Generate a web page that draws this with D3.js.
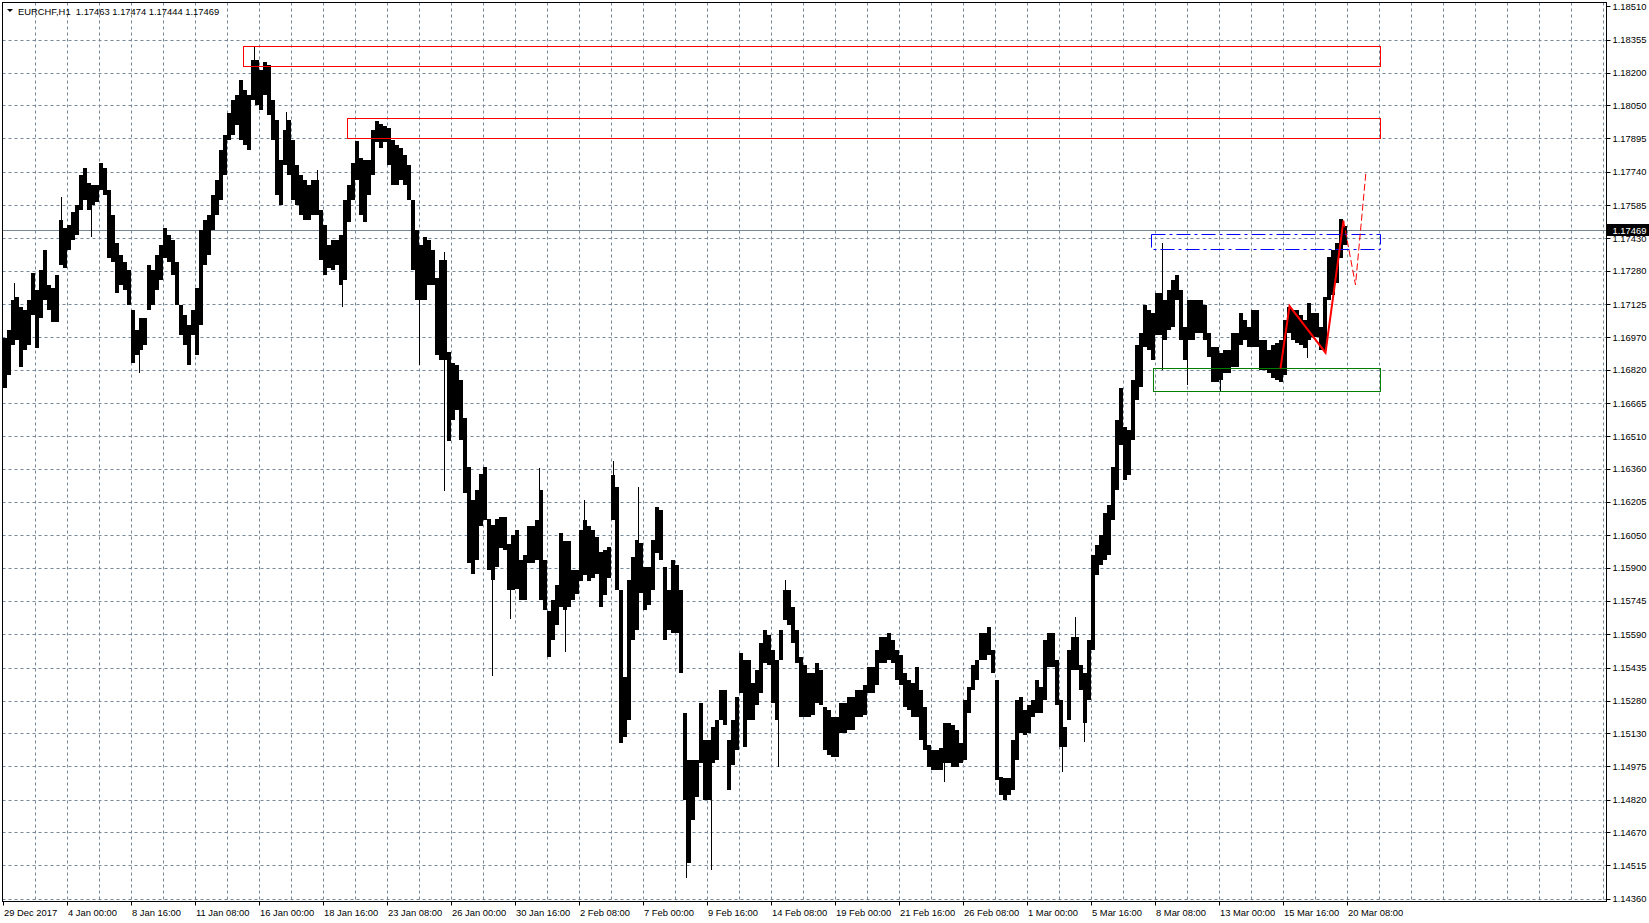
<!DOCTYPE html>
<html><head><meta charset="utf-8">
<script src="https://cdn.jsdelivr.net/npm/d3@7"></script>
<style>
html,body{margin:0;padding:0;background:#fff;}
svg{display:block;}
text{font-family:"Liberation Sans",Arial,sans-serif;font-size:9.4px;fill:#000;white-space:pre;}
</style></head><body>
<svg id="chart" width="1649" height="923"></svg>
<script>
// ---------------- data ----------------
const symbolTitle = "EURCHF,H1  1.17463 1.17474 1.17444 1.17469";
const lastPrice = 1.17469;
const priceTicks = [1.18510,1.18355,1.18200,1.18050,1.17895,1.17740,1.17585,1.17430,1.17280,1.17125,
  1.16970,1.16820,1.16665,1.16510,1.16360,1.16205,1.16050,1.15900,1.15745,1.15590,1.15435,1.15280,
  1.15130,1.14975,1.14820,1.14670,1.14515,1.14360];
const timeLabels = ["29 Dec 2017","4 Jan 00:00","8 Jan 16:00","11 Jan 08:00","16 Jan 00:00","18 Jan 16:00",
  "23 Jan 08:00","26 Jan 00:00","30 Jan 16:00","2 Feb 08:00","7 Feb 00:00","9 Feb 16:00","14 Feb 08:00",
  "19 Feb 00:00","21 Feb 16:00","26 Feb 08:00","1 Mar 00:00","5 Mar 16:00","8 Mar 08:00","13 Mar 00:00",
  "15 Mar 16:00","20 Mar 08:00"];
const barsPerLabel = 64;   // H1 bars between time labels
const barsPerBlock = 4;    // each high/low pair below covers 4 H1 bars

const blockHighs = [
1.16967,1.17005,1.17144,1.17158,1.17111,1.17097,1.17144,1.17270,1.17190,1.17283,
1.17376,1.17214,1.17200,1.17260,1.17516,1.17479,1.17493,1.17553,1.17586,1.17725,
1.17758,1.17688,1.17679,1.17679,1.17781,1.17758,1.17655,1.17539,1.17409,1.17353,
1.17321,1.17283,1.17097,1.17005,1.17060,1.17060,1.17307,1.17283,1.17353,1.17400,
1.17479,1.17446,1.17423,1.17321,1.17121,1.17074,1.17028,1.17097,1.17200,1.17470,
1.17516,1.17539,1.17632,1.17702,1.17842,1.17911,1.18014,1.18074,1.18097,1.18167,
1.18121,1.18097,1.18260,1.18260,1.18214,1.18251,1.18237,1.18074,1.17981,1.17795,
1.17935,1.17981,1.17888,1.17772,1.17725,1.17702,1.17679,1.17702,1.17702,1.17562,
1.17493,1.17400,1.17423,1.17423,1.17446,1.17609,1.17679,1.17781,1.17883,1.17804,
1.17795,1.17795,1.17935,1.17976,1.17962,1.17953,1.17944,1.17888,1.17865,1.17851,
1.17818,1.17772,1.17609,1.17470,1.17400,1.17437,1.17423,1.17376,1.17246,1.17330,
1.17330,1.16902,1.16851,1.16842,1.16772,1.16595,1.16367,1.16214,1.16261,1.16335,
1.16367,1.16126,1.16098,1.16126,1.16135,1.16135,1.16009,1.16051,1.16075,1.15935,
1.15958,1.16093,1.16093,1.16121,1.16261,1.15935,1.15698,1.15749,1.15819,1.16061,
1.16023,1.16023,1.15889,1.15889,1.16075,1.16121,1.16093,1.16075,1.16042,1.15972,
1.15982,1.15995,1.16330,1.16274,1.15796,1.15391,1.15842,1.15949,1.16028,1.16014,
1.15902,1.15902,1.16028,1.16181,1.16168,1.15902,1.15796,1.15935,1.15912,1.15796,
1.15224,1.15005,1.15005,1.15005,1.15270,1.15098,1.15098,1.15158,1.15191,1.15331,
1.15331,1.15098,1.15191,1.15298,1.15503,1.15470,1.15470,1.15363,1.15424,1.15549,
1.15610,1.15586,1.15517,1.15470,1.15610,1.15796,1.15796,1.15716,1.15610,1.15484,
1.15447,1.15410,1.15410,1.15456,1.15424,1.15251,1.15238,1.15205,1.15205,1.15270,
1.15270,1.15298,1.15298,1.15331,1.15331,1.15354,1.15437,1.15437,1.15517,1.15577,
1.15577,1.15596,1.15563,1.15517,1.15494,1.15410,1.15377,1.15363,1.15437,1.15331,
1.15251,1.15075,1.15052,1.15052,1.15061,1.15177,1.15177,1.15168,1.15145,1.15084,
1.15284,1.15344,1.15447,1.15470,1.15596,1.15596,1.15623,1.15517,1.15377,1.14926,
1.14921,1.14921,1.15098,1.15284,1.15298,1.15238,1.15261,1.15284,1.15377,1.15344,
1.15563,1.15596,1.15596,1.15470,1.15284,1.15158,1.15517,1.15577,1.15577,1.15447,
1.15410,1.15563,1.15958,1.16005,1.16051,1.16154,1.16191,1.16367,1.16586,1.16735,
1.16553,1.16540,1.16772,1.16935,1.16991,1.17121,1.17097,1.17084,1.17177,1.17177,
1.17144,1.17190,1.17237,1.17260,1.17190,1.17018,1.17144,1.17144,1.17144,1.17144,
1.17121,1.16991,1.16925,1.16925,1.16898,1.16911,1.16911,1.16991,1.16991,1.17084,
1.17051,1.17018,1.17097,1.17097,1.16958,1.16958,1.16911,1.16935,1.16944,1.16958,
1.17051,1.17111,1.17097,1.17097,1.17074,1.17051,1.17130,1.17084,1.17084,1.17018,
1.17158,1.17344,1.17376,1.17409,1.17521,1.17488];

const blockLows = [
1.16735,1.16795,1.16935,1.16958,1.16832,1.16911,1.16935,1.17074,1.16921,1.17060,
1.17144,1.17097,1.17042,1.17042,1.17307,1.17293,1.17376,1.17423,1.17446,1.17562,
1.17609,1.17562,1.17586,1.17600,1.17655,1.17632,1.17339,1.17321,1.17177,1.17214,
1.17190,1.17121,1.16851,1.16888,1.16911,1.16935,1.17097,1.17121,1.17190,1.17237,
1.17339,1.17321,1.17260,1.17121,1.16981,1.16935,1.16842,1.16981,1.16888,1.17028,
1.17307,1.17353,1.17470,1.17539,1.17609,1.17725,1.17888,1.17911,1.17958,1.17888,
1.17865,1.17842,1.18074,1.18051,1.18028,1.18097,1.18004,1.17888,1.17632,1.17586,
1.17772,1.17725,1.17609,1.17586,1.17539,1.17516,1.17516,1.17539,1.17539,1.17330,
1.17260,1.17293,1.17283,1.17307,1.17214,1.17237,1.17507,1.17609,1.17702,1.17539,
1.17507,1.17632,1.17725,1.17879,1.17851,1.17879,1.17772,1.17679,1.17679,1.17702,
1.17679,1.17609,1.17283,1.17144,1.17144,1.17144,1.17214,1.17214,1.16888,1.16865,
1.16865,1.16488,1.16586,1.16633,1.16493,1.16247,1.15921,1.15870,1.15935,1.16093,
1.16121,1.15889,1.15842,1.15902,1.15991,1.15982,1.15796,1.15796,1.15800,1.15749,
1.15749,1.15921,1.15921,1.15935,1.15749,1.15703,1.15484,1.15563,1.15633,1.15716,
1.15703,1.15716,1.15749,1.15777,1.15837,1.15865,1.15837,1.15851,1.15870,1.15716,
1.15772,1.15851,1.16121,1.15796,1.15084,1.15112,1.15191,1.15563,1.15610,1.15782,
1.15703,1.15726,1.15796,1.15968,1.15935,1.15563,1.15610,1.15596,1.15596,1.15410,
1.14819,1.14526,1.14726,1.14833,1.14991,1.14819,1.14819,1.14991,1.15005,1.15191,
1.15168,1.14866,1.14982,1.15052,1.15317,1.15065,1.15191,1.15191,1.15261,1.15317,
1.15456,1.15447,1.15270,1.15191,1.15470,1.15656,1.15633,1.15549,1.15456,1.15205,
1.15205,1.15205,1.15214,1.15270,1.15261,1.15052,1.15028,1.15019,1.15019,1.15131,
1.15131,1.15145,1.15145,1.15205,1.15205,1.15214,1.15317,1.15317,1.15354,1.15456,
1.15456,1.15470,1.15456,1.15377,1.15354,1.15251,1.15238,1.15205,1.15205,1.15098,
1.15052,1.14972,1.14959,1.14959,1.14959,1.14991,1.14991,1.14972,1.14972,1.14991,
1.15005,1.15224,1.15331,1.15377,1.15470,1.15470,1.15494,1.15410,1.14912,1.14842,
1.14819,1.14842,1.14866,1.15005,1.15131,1.15121,1.15131,1.15205,1.15224,1.15224,
1.15284,1.15437,1.15437,1.15261,1.15065,1.15065,1.15191,1.15424,1.15424,1.15331,
1.15177,1.15284,1.15517,1.15865,1.15912,1.15935,1.15958,1.16121,1.16261,1.16470,
1.16307,1.16330,1.16493,1.16679,1.16739,1.16925,1.16911,1.16865,1.16981,1.16981,
1.16958,1.17005,1.17018,1.17144,1.16958,1.16865,1.16958,1.16958,1.16991,1.16991,
1.16958,1.16879,1.16763,1.16763,1.16772,1.16805,1.16805,1.16832,1.16832,1.16935,
1.16958,1.16925,1.16925,1.16925,1.16819,1.16819,1.16805,1.16781,1.16772,1.16763,
1.16795,1.16991,1.16958,1.16944,1.16935,1.16921,1.16958,1.16972,1.16972,1.16911,
1.16911,1.17144,1.17167,1.17223,1.17339,1.17400];

// single-hour spikes (H1 bar index, high, low)
const wickBars  = [11,58,88,136,251,283,314,339,416,441,489,507,536,562,581,610,635,683,708,775,782,941,1059,1072,1081,1159,1184,1217,1304];
const wickHighs = [1.17223,1.17623,1.17632,1.17005,1.18320,1.18018,1.17749,1.17330,1.17376,1.17367,1.16075,1.15935,1.16363,1.15935,1.16214,
  1.16395,1.16274,1.15005,1.15005,1.15284,1.15842,1.15028,1.15158,1.15670,1.15331,1.17409,1.17005,1.16865,1.17051];
const wickLows  = [1.17051,1.17423,1.17437,1.16805,1.18121,1.17842,1.17609,1.17111,1.16842,1.16256,1.15396,1.15661,1.16028,1.15507,1.16028,
  1.16214,1.15935,1.14456,1.14494,1.14972,1.15703,1.14903,1.14949,1.15517,1.15089,1.16819,1.16749,1.16716,1.16874];

// zones (price levels, bar index where they start / end)
const zoneNames  = ["resistance1","resistance2","breakout","support"];
const zoneTops   = [1.18325, 1.17989, 1.17450, 1.16826];
const zoneBottoms= [1.18232, 1.17896, 1.17380, 1.16718];
const zoneStarts = [240, 344, 1148, 1150];
const zoneEnd    = 1377;
// red pattern drawn over the bars (bar index, price)
const patternBars   = [1277, 1286, 1322, 1340];
const patternPrices = [1.16826, 1.17116, 1.16899, 1.17513];
const projectionBars   = [1340, 1352, 1362.5];
const projectionPrices = [1.17513, 1.17214, 1.17742];

// ---------------- layout ----------------
const W = 1649, H = 923;
const frame = {left: 2.5, top: 2.5, right: 1606.5, bottom: 901.5};
const svg = d3.select("#chart");

const y = d3.scaleLinear().domain([1.14360, 1.18510]).range([898.7, 6.24]);
const x = d3.scaleLinear().domain([0, 1600]).range([3, 1603]);

const gridColor = "#778899";

// grid
const gGrid = svg.append("g");
const vLines = d3.range(1, 51).map(k => k * 32);
gGrid.selectAll("line.v").data(vLines).enter().append("line")
  .attr("x1", d => x(d) + 0.5).attr("x2", d => x(d) + 0.5)
  .attr("y1", frame.top).attr("y2", frame.bottom)
  .attr("stroke", gridColor).attr("stroke-width", 1).attr("stroke-dasharray", "3,3");
gGrid.selectAll("line.h").data(priceTicks.slice(1)).enter().append("line")
  .attr("x1", frame.left).attr("x2", frame.right)
  .attr("y1", d => Math.round(y(d)) + 0.5).attr("y2", d => Math.round(y(d)) + 0.5)
  .attr("stroke", gridColor).attr("stroke-width", 1).attr("stroke-dasharray", "3,3");

// last price line
svg.append("line")
  .attr("x1", frame.left).attr("x2", frame.right)
  .attr("y1", Math.round(y(lastPrice)) + 0.5).attr("y2", Math.round(y(lastPrice)) + 0.5)
  .attr("stroke", gridColor).attr("stroke-width", 1);

// bars
const gBars = svg.append("g").attr("shape-rendering", "crispEdges");
const blocks = blockHighs.map((h, i) => ({i, h, l: blockLows[i]}));
gBars.selectAll("rect.b").data(blocks).enter().append("rect")
  .attr("x", d => x(d.i * barsPerBlock))
  .attr("width", barsPerBlock)
  .attr("y", d => y(d.h))
  .attr("height", d => Math.max(1, y(d.l) - y(d.h)))
  .attr("fill", "#000");
const wicks = wickBars.map((b, i) => ({b, h: wickHighs[i], l: wickLows[i]}));
gBars.selectAll("rect.w").data(wicks).enter().append("rect")
  .attr("x", d => x(d.b))
  .attr("width", 1)
  .attr("y", d => y(d.h))
  .attr("height", d => Math.max(1, y(d.l) - y(d.h)))
  .attr("fill", "#000");

// zones
const zoneStyles = [
  {stroke: "#ff0000", dash: null},
  {stroke: "#ff0000", dash: null},
  {stroke: "#0000ff", dash: "14,4,3,4"},
  {stroke: "#008000", dash: null}
];
const zones = zoneNames.map((n, i) => ({n, top: zoneTops[i], bottom: zoneBottoms[i], start: zoneStarts[i], s: zoneStyles[i]}));
svg.append("g").selectAll("rect").data(zones).enter().append("rect")
  .attr("x", d => Math.round(x(d.start)) + 0.5)
  .attr("y", d => Math.round(y(d.top)) + 0.5)
  .attr("width", d => Math.round(x(zoneEnd) - x(d.start)))
  .attr("height", d => Math.round(y(d.bottom) - y(d.top)))
  .attr("fill", "none")
  .attr("stroke", d => d.s.stroke)
  .attr("stroke-width", 1)
  .attr("stroke-dasharray", d => d.s.dash);

// pattern
const line = d3.line().x(d => x(d[0]) + 0.5).y(d => y(d[1]));
svg.append("path")
  .datum(patternBars.map((b, i) => [b, patternPrices[i]]))
  .attr("d", line).attr("fill", "none").attr("stroke", "#ff0000").attr("stroke-width", 2)
  .attr("stroke-linejoin", "miter");
svg.append("path")
  .datum(projectionBars.map((b, i) => [b, projectionPrices[i]]))
  .attr("d", line).attr("fill", "none").attr("stroke", "#ff0000").attr("stroke-width", 1)
  .attr("stroke-dasharray", "7,3");

// frame
svg.append("rect")
  .attr("x", frame.left).attr("y", frame.top)
  .attr("width", frame.right - frame.left).attr("height", frame.bottom - frame.top)
  .attr("fill", "none").attr("stroke", "#000").attr("stroke-width", 1);

// right axis
const gR = svg.append("g");
gR.selectAll("line").data(priceTicks).enter().append("line")
  .attr("x1", frame.right).attr("x2", frame.right + 4)
  .attr("y1", d => Math.round(y(d)) + 0.5).attr("y2", d => Math.round(y(d)) + 0.5)
  .attr("stroke", "#000");
gR.selectAll("text").data(priceTicks).enter().append("text")
  .attr("x", frame.right + 6).attr("y", d => y(d) + 3.5)
  .text(d => d.toFixed(5));

// last price label
const ly = Math.round(y(lastPrice));
svg.append("rect").attr("x", frame.right).attr("y", ly - 6).attr("width", W - frame.right).attr("height", 12).attr("fill", "#000");
svg.append("text").attr("x", frame.right + 6).attr("y", ly + 3.5).style("fill", "#fff")
  .text(lastPrice.toFixed(5));

// bottom axis
const gB = svg.append("g");
const tPos = timeLabels.map((t, k) => ({t, b: k * barsPerLabel}));
gB.selectAll("line").data(tPos).enter().append("line")
  .attr("x1", d => x(d.b) + 0.5).attr("x2", d => x(d.b) + 0.5)
  .attr("y1", frame.bottom).attr("y2", frame.bottom + 4)
  .attr("stroke", "#000");
gB.selectAll("text").data(tPos).enter().append("text")
  .attr("x", d => x(d.b) + 1).attr("y", frame.bottom + 14)
  .text(d => d.t);

// title
svg.append("path").attr("d", "M7,9 L13,9 L10,12 Z").attr("fill", "#000");
svg.append("text").attr("x", 18).attr("y", 14.5).text(symbolTitle);
</script>
</body></html>
